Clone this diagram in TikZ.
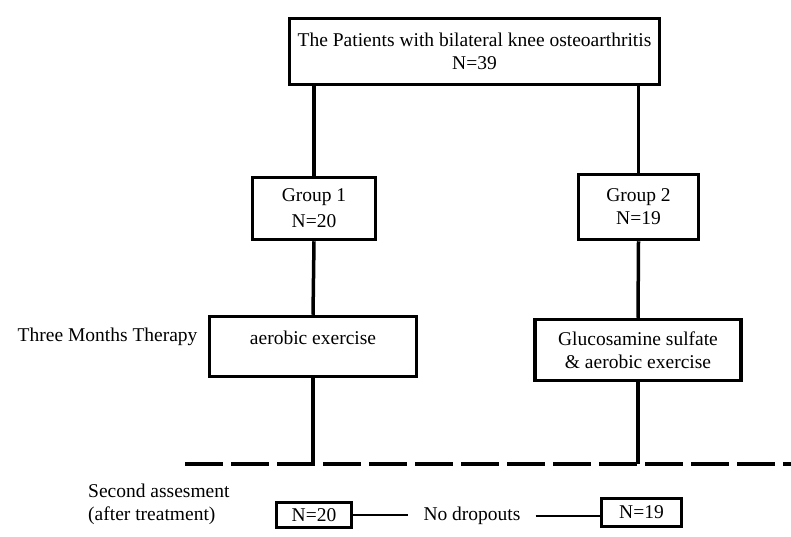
\documentclass[tikz,border=0pt]{standalone}
\usepackage{fontspec}
\setmainfont{Liberation Serif}

\begin{document}
\begin{tikzpicture}[x = 1pt, y = -1pt, font = \fontsize{19.5}{23}\selectfont]
      \tikzset{Box/.style = {draw, line width = 3.5pt, align = center, inner sep = 2pt},
      Link/.style = {line width = 3.5pt},
      Thin/.style = {line width = 2.5pt}}
      \useasboundingbox (0,0) rectangle (791,536);
      \node[Box, minimum width = 370, minimum height = 66] (Patients) at (474.5,51.5)
        {The Patients with bilateral knee osteoarthritis\\N=39};
      \node[Box, minimum width = 123, minimum height = 62] (Group1) at (314,208.5)
        {Group 1\\[3pt]N=20};
      \node[Box, minimum width = 120, minimum height = 65] (Group2) at (638.5,207)
        {Group 2\\N=19};
      \node[Box, minimum width = 207, minimum height = 60] (Aerobic) at (313,346.5)
        {aerobic exercise\\[-12pt]\strut};
      \node[Box, minimum width = 206, minimum height = 61] (Glucos) at (638,350)
        {Glucosamine sulfate\\\& aerobic exercise};
      \node[anchor = east] (Therapy) at (201,337) {Three Months Therapy};
      % dashed separation line
      \coordinate (DashL) at (185,464);
      \coordinate (DashR) at (791,464);
      \draw[line width = 4pt, dash pattern = on 38pt off 8pt] (DashL) -- (DashR);
      \node[anchor = north west, align = left, inner sep = 0pt] (Second) at (88,484)
        {Second assesment\\(after treatment)};
      \node[Box, line width = 3pt, minimum width = 75, minimum height = 25] (N20) at (314,515) {N=20};
      \node[Box, line width = 3pt, minimum width = 80, minimum height = 28] (N19) at (641.5,512.5) {N=19};
      \node[inner xsep = 15pt] (Drop) at (472,516) {No dropouts};
      \draw[Link] (Group1.north |- Patients.south) -- (Group1.north);
      \draw[Link] (Group2.north |- Patients.south) -- (Group2.north);
      \draw[Link] (Group1.south) -- (Aerobic.north);
      \draw[Link] (Group2.south) -- (Glucos.north);
      \draw[Link] (Aerobic.south) -- (Aerobic.south |- DashL);
      \draw[Link] (Glucos.south) -- (Glucos.south |- DashL);
      \draw[Thin] (N20.east) -- (N20.east -| Drop.west);
      \draw[Thin] (Drop.east) -- (Drop.east -| N19.west);
\end{tikzpicture}
\end{document}
